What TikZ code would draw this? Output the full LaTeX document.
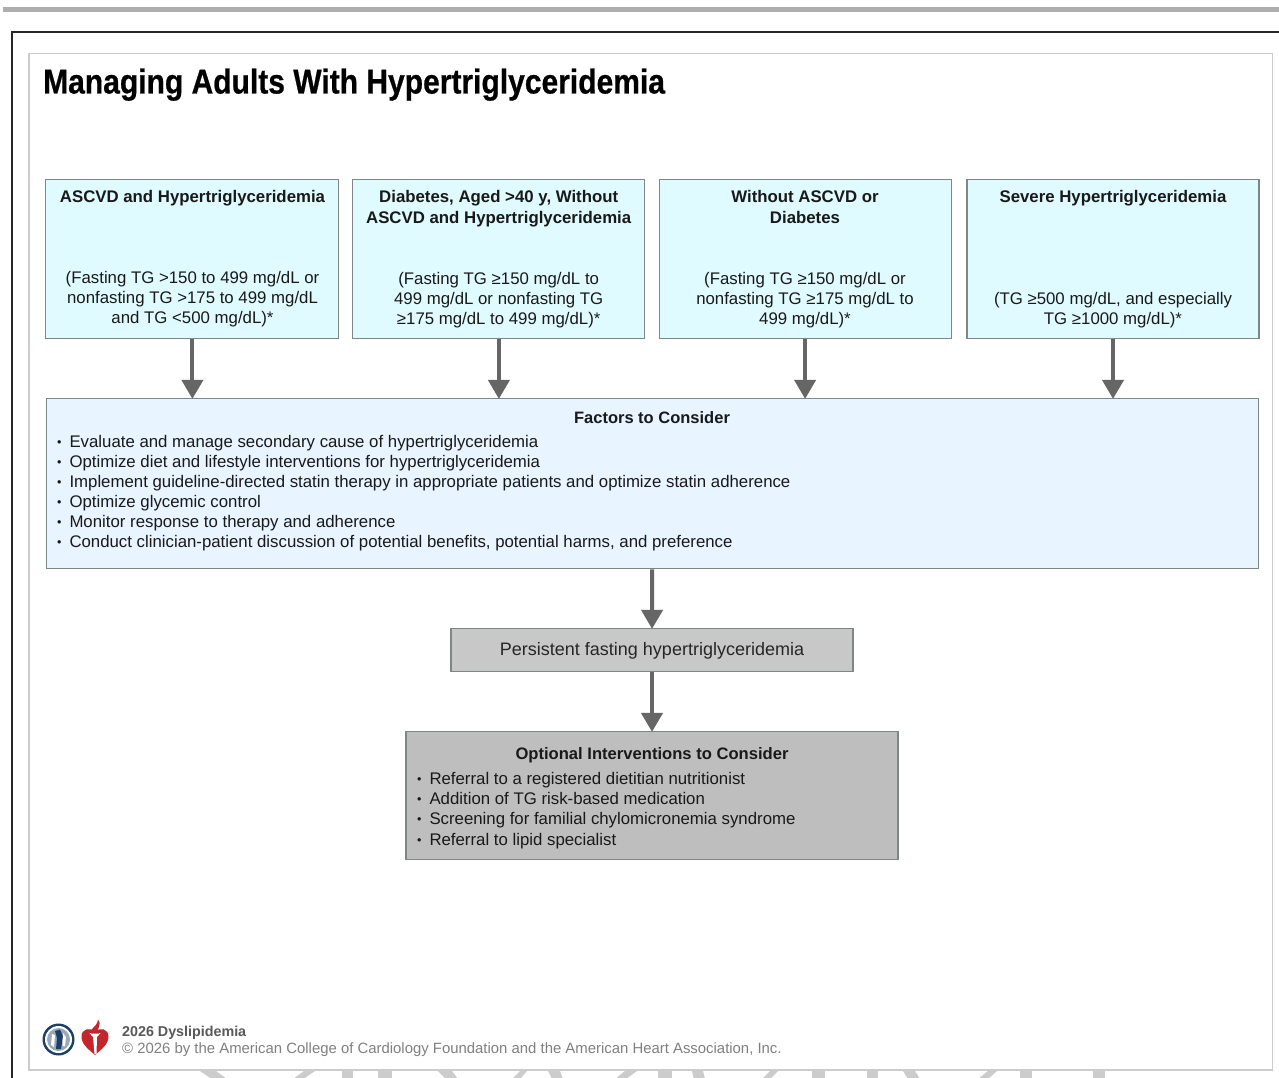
\documentclass[tikz,border=0pt]{standalone}
\usepackage{fontspec}
\setmainfont{Liberation Sans}
\newfontfamily\titlefont[FakeStretch=0.87,FakeBold=0.6]{Liberation Sans Bold}
\usetikzlibrary{arrows.meta}
\definecolor{cyanbox}{HTML}{E0FBFF}
\definecolor{bluebox}{HTML}{E8F4FF}
\definecolor{greyone}{HTML}{C8C8C8}
\definecolor{greytwo}{HTML}{BEBEBE}
\definecolor{edgegrey}{HTML}{7E8686}
\definecolor{arrowgrey}{HTML}{666666}
\definecolor{frameline}{HTML}{CCCCCC}
\definecolor{navy}{HTML}{1D3F66}
\definecolor{heartred}{HTML}{C1272D}
\newcommand{\bul}{\makebox[12.5pt][l]{\raisebox{1pt}{\scalebox{0.75}{•}}}}
\tikzset{
  x=1pt,y=-1pt,
  box/.style={draw=edgegrey,line width=1.1pt,inner sep=0pt,outer sep=0.5pt},
  txt/.style={inner sep=0pt,outer sep=0pt,align=center,text=black!90,font=\fontsize{16.8}{20.1}\selectfont},
  hd/.style={txt,font=\fontsize{16.8}{21}\selectfont\bfseries},
  lst/.style={txt,align=left,anchor=west},
  flow/.style={draw=arrowgrey,line width=4pt,-{Triangle[width=21pt,length=19pt,fill=arrowgrey]},shorten >=-0.5pt},
  wm/.style={fill=frameline,draw=none}
}
\begin{document}
\begin{tikzpicture}
\useasboundingbox (0,0) rectangle (1279,1078);
\clip (0,0) rectangle (1279,1078);
\fill[white] (0,0) rectangle (1279,1078);
% page furniture
\fill[black!32] (3,7) rectangle (1279,12.5);
\draw[black!85,line width=2.2pt] (1285,32) -- (12,32) -- (12,1085);
% watermark remnants
\foreach \a/\b/\c/\d in {200/216/212/227,304/315/293/303,342/353/342/353,378/392/378/392,438/452/446/458,520/527/512/520,548/560/552/563,625/637/615/626,658/672/658/672,692/703/694/705,770/778/762/770,812/825/812/825,867/878/867/878,903/915/908/920,988/997/978/988,1020/1032/1020/1032,1093/1105/1093/1105}
  \fill[wm] (\a,1071) -- (\b,1071) -- (\d,1079) -- (\c,1079) -- cycle;
\draw[frameline,line width=1.2pt,fill=white] (29,53.5) rectangle (1272.5,1070);
% title
\node[anchor=base west,inner sep=0pt,font=\fontsize{34.5}{40}\titlefont] (title) at (43,93.5) {Managing Adults With Hypertriglyceridemia};
% top boxes
\node[box,fill=cyanbox,minimum width=293pt,minimum height=159pt] (a) at (192.4,259.4) {};
\node[box,fill=cyanbox,minimum width=292pt,minimum height=159pt] (b) at (498.9,259.4) {};
\node[box,fill=cyanbox,minimum width=292pt,minimum height=159pt] (c) at (805.1,259.4) {};
\node[box,fill=cyanbox,minimum width=292pt,minimum height=159pt] (d) at (1113,259.4) {};
\node[hd] (ah) at (192.5,198) {ASCVD and Hypertriglyceridemia};
\node[txt] (at) at (192.5,299.5) {(Fasting TG >150 to 499 mg/dL or\\nonfasting TG >175 to 499 mg/dL\\and TG <500 mg/dL)*};
\node[hd] (bh) at (498.7,208.5) {Diabetes, Aged >40 y, Without\\ASCVD and Hypertriglyceridemia};
\node[txt] (bt) at (498.7,300.5) {(Fasting TG ≥150 mg/dL to\\499 mg/dL or nonfasting TG\\≥175 mg/dL to 499 mg/dL)*};
\node[hd] (ch) at (805,207) {Without ASCVD or\\Diabetes};
\node[txt] (ct) at (805,300.5) {(Fasting TG ≥150 mg/dL or\\nonfasting TG ≥175 mg/dL to\\499 mg/dL)*};
\node[hd] (dh) at (1113,198) {Severe Hypertriglyceridemia};
\node[txt] (dt) at (1113,310) {(TG ≥500 mg/dL, and especially\\TG ≥1000 mg/dL)*};
% factors
\node[box,fill=bluebox,minimum width=1212pt,minimum height=170pt] (f) at (652.2,483.9) {};
\node[hd,font=\fontsize{16.5}{21}\selectfont\bfseries] (fh) at (652,417.2) {Factors to Consider};
\node[lst] (fl) at (57,493) {\bul Evaluate and manage secondary cause of hypertriglyceridemia\\
\bul Optimize diet and lifestyle interventions for hypertriglyceridemia\\
\bul Implement guideline-directed statin therapy in appropriate patients and optimize statin adherence\\
\bul Optimize glycemic control\\
\bul Monitor response to therapy and adherence\\
\bul Conduct clinician-patient discussion of potential benefits, potential harms, and preference};
% persistent
\node[box,fill=greyone,minimum width=402pt,minimum height=43pt] (p) at (652,650.4) {};
\node[txt,font=\fontsize{18}{20}\selectfont,text=black!85] (pt) at (652,651) {Persistent fasting hypertriglyceridemia};
% optional
\node[box,fill=greytwo,minimum width=492pt,minimum height=128pt] (o) at (652,795.9) {};
\node[hd,font=\fontsize{16.6}{21}\selectfont\bfseries] (oh) at (652,755) {Optional Interventions to Consider};
\node[lst] (ol) at (417,810.5) {\bul Referral to a registered dietitian nutritionist\\
\bul Addition of TG risk-based medication\\
\bul Screening for familial chylomicronemia syndrome\\
\bul Referral to lipid specialist};
% arrows
\draw[flow] (a.south) -- (a.south |- f.north);
\draw[flow] (b.south) -- (b.south |- f.north);
\draw[flow] (c.south) -- (c.south |- f.north);
\draw[flow] (d.south) -- (d.south |- f.north);
\draw[flow] (f.south) -- (p.north);
\draw[flow] (p.south) -- (o.north);
% footer
\node[anchor=base west,inner sep=0pt,font=\fontsize{14.3}{16}\selectfont\bfseries,text=black!65] (fa) at (122,1036) {2026 Dyslipidemia};
\node[anchor=base west,inner sep=0pt,font=\fontsize{14.9}{16}\selectfont,text=black!50] (fb) at (122,1053) {© 2026 by the American College of Cardiology Foundation and the American Heart Association, Inc.};
% ACC seal
\fill[navy] (58.5,1039.5) circle (16);
\fill[white] (58.5,1039.5) circle (13.5);
\fill[navy!45] (58.5,1039.5) circle (11.5);
\fill[navy] (55,1031) -- (60,1029.5) -- (63,1036) -- (61,1049) -- (56,1049) -- (57,1038) -- cycle;
\fill[white] (52,1034) -- (55,1035) -- (54,1047) -- (51,1045) -- cycle;
\fill[white] (63,1033) -- (66,1037) -- (65,1046) -- (62.5,1046) -- cycle;
% AHA heart and torch
\fill[heartred] (95,1055) .. controls (88,1049) and (81.5,1044) .. (81.5,1036.5) .. controls (81.5,1029) and (90,1026.5) .. (95,1032) .. controls (100,1026.5) and (108.5,1029) .. (108.5,1036.5) .. controls (108.5,1044) and (102,1049) .. (95,1055) -- cycle;
\fill[white] (89.5,1033) -- (100.5,1033) -- (97,1037) -- (96.5,1054) -- (94.5,1054) -- (93,1037) -- cycle;
\fill[heartred] (91,1033.5) .. controls (89,1028) and (97,1028) .. (98,1019.5) .. controls (103,1026) and (95,1028) .. (99,1033.5) -- cycle;
\end{tikzpicture}
\end{document}
